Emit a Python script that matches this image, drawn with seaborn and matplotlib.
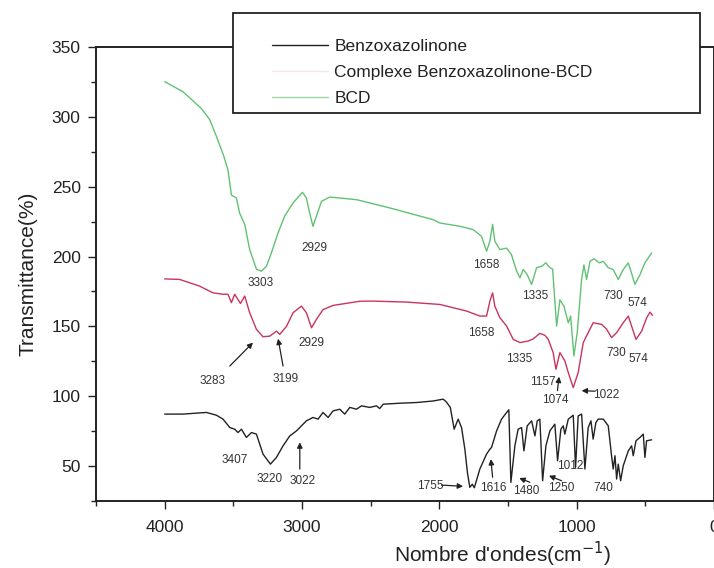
import numpy as np
import pandas as pd
import matplotlib
matplotlib.use("Agg")
import matplotlib.pyplot as plt
from matplotlib.patches import Rectangle
from matplotlib.lines import Line2D
from matplotlib.ticker import MultipleLocator
import seaborn as sns

# ---------------- data ----------------
series_names = ["Benzoxazolinone", "Complexe Benzoxazolinone-BCD", "BCD"]

wn_benz = [4000, 3867, 3696, 3623, 3575, 3526, 3490, 3466, 3441, 3405, 3368, 3332,
           3284, 3230, 3186, 3138, 3089, 3040, 3016, 2968, 2920, 2883, 2847, 2810,
           2774, 2725, 2689, 2652, 2603, 2567, 2506, 2458, 2434, 2409, 2288, 2166,
           2045, 1972, 1950, 1920, 1892, 1863, 1838, 1814, 1795, 1778, 1760, 1745,
           1705, 1656, 1632, 1620, 1583, 1547, 1510, 1494, 1479, 1450, 1426, 1401,
           1384, 1360, 1328, 1304, 1287, 1268, 1248, 1224, 1195, 1159, 1139, 1115,
           1098, 1086, 1061, 1025, 1008, 989, 964, 940, 916, 896, 880, 860, 843,
           806, 770, 746, 734, 721, 709, 697, 680, 661, 624, 600, 588, 568, 539,
           515, 503, 491, 454]
t_benz = [87.2, 87.2, 88.4, 86.4, 83.6, 77.6, 76.4, 74.0, 76.4, 70.5, 74.0, 72.9,
          58.6, 51.4, 56.2, 64.5, 71.6, 75.2, 77.6, 82.4, 84.8, 83.6, 88.4, 84.8,
          89.5, 90.7, 87.2, 92.0, 90.7, 93.1, 92.0, 93.1, 91.2, 94.3, 95.0, 95.5,
          96.6, 97.9, 96.0, 92.0, 76.4, 83.6, 77.5, 62.0, 45.0, 34.8, 37.0, 34.5,
          47.9, 58.6, 62.1, 63.3, 75.2, 83.6, 88.4, 90.3, 38.3, 64.5, 76.4, 77.6,
          60.9, 78.8, 82.4, 71.6, 82.4, 83.6, 39.5, 64.5, 75.2, 80.0, 53.8, 76.4,
          78.8, 72.9, 83.6, 86.4, 49.0, 85.9, 87.2, 47.9, 77.6, 82.4, 69.3, 81.2, 83.6,
          83.6, 78.8, 57.4, 47.9, 57.4, 40.7, 51.4, 39.5, 50.2, 60.9, 64.5, 57.4, 68.1, 70.5,
          72.9, 56.2, 68.1, 68.8]

wn_cplx = [4000, 3891, 3745, 3648, 3575, 3539, 3514, 3490, 3448, 3417, 3381, 3332,
           3284, 3235, 3186, 3162, 3113, 3065, 3004, 2968, 2931, 2895, 2847, 2774,
           2579, 2482, 2239, 1996, 1802, 1705, 1656, 1632, 1612, 1596, 1559, 1510,
           1462, 1413, 1353, 1317, 1268, 1231, 1207, 1171, 1151, 1122, 1086, 1061,
           1025, 989, 952, 916, 880, 818, 782, 746, 709, 661, 624, 600, 568, 527,
           490, 466, 447]
t_cplx = [184.0, 183.6, 178.8, 174.0, 173.0, 173.0, 167.0, 173.0, 166.4, 171.7, 159.8, 147.9,
          142.6, 143.0, 146.6, 144.3, 150.0, 159.8, 164.5, 159.8, 149.0, 155.0, 162.0, 165.0,
          168.0, 168.1, 167.4, 165.7, 161.0, 157.4, 157.4, 168.0, 174.0, 164.5, 156.2, 150.2,
          140.7, 138.4, 139.5, 141.0, 145.0, 143.6, 140.7, 131.2, 119.3, 131.2, 125.3, 116.9,
          106.2, 116.9, 138.4, 145.5, 152.6, 151.4, 148.0, 142.0, 145.5, 152.6, 157.4, 150.2, 140.7, 146.6,
          156.2, 160.2, 157.9]

wn_bcd = [4000, 3867, 3733, 3672, 3623, 3570, 3539, 3514, 3478, 3454, 3417, 3381,
          3332, 3296, 3259, 3223, 3174, 3126, 3065, 2997, 2968, 2944, 2920, 2895,
          2858, 2798, 2603, 2361, 2045, 1996, 1851, 1754, 1693, 1656, 1632, 1612,
          1596, 1559, 1510, 1475, 1437, 1413, 1389, 1360, 1328, 1292, 1255, 1224,
          1195, 1175, 1146, 1122, 1093, 1061, 1044, 1020, 996, 964, 947, 928, 903,
          874, 835, 806, 770, 734, 697, 661, 624, 600, 576, 539, 503, 454]
t_bcd = [325.2, 318.0, 306.0, 298.0, 286.0, 272.0, 262.0, 244.0, 242.0, 231.0, 223.0, 205.0,
         191.0, 189.5, 193.0, 202.6, 217.0, 229.0, 238.4, 246.0, 242.0, 231.0, 221.6, 229.0,
         239.5, 242.6, 240.7, 234.8, 226.4, 224.0, 221.7, 219.3, 214.5, 203.8, 211.0, 223.0,
         211.0, 205.0, 206.0, 201.4, 189.5, 184.8, 190.7, 187.0, 180.0, 192.0, 193.0, 195.5,
         192.0, 191.0, 150.2, 169.0, 164.5, 152.6, 157.4, 128.8, 145.5, 183.6, 194.0, 183.6, 196.6,
         198.4, 195.5, 196.6, 192.0, 190.7, 183.6, 190.7, 195.5, 188.0, 180.0, 187.0, 195.5, 202.6]

# peak labels: (text, x, y)
peak_labels = [
    ("3303", 3305, 181), ("2929", 2907, 206), ("1658", 1656, 194), ("1335", 1304, 172),
    ("730", 734, 172), ("574", 560, 167),
    ("2929", 2931, 138), ("3283", 3648, 111), ("3199", 3118, 112), ("1658", 1693, 145.5),
    ("1335", 1418, 127), ("1157", 1244, 110), ("1074", 1158, 97.5), ("1022", 782, 101),
    ("730", 709, 131), ("574", 551, 126.5),
    ("3407", 3490, 54), ("3220", 3235, 41), ("3022", 2997, 39.5), ("1755", 2069, 36),
    ("1616", 1608, 34.3), ("1480", 1366, 32.4), ("1250", 1110, 34), ("1012", 1049, 50),
    ("740", 806, 34),
]
# arrows: (tail x, tail y, head x, head y)
arrows = [
    (3526, 121.6, 3357, 138.4), (3138, 121.6, 3174, 141.2), (3016, 47.9, 3016, 67),
    (1984, 36.4, 1827, 35.5), (1612, 42, 1625, 55), (1341, 38.4, 1418, 41.4),
    (1110, 39.5, 1202, 43.1), (867, 103.6, 964, 104), (1140, 104, 1128, 114),
]

colors = {"Benzoxazolinone": "#222222",
          "Complexe Benzoxazolinone-BCD": "#c9345e",
          "BCD": "#62c173"}

# ---------------- build table ----------------
frames = []
for name, wn, tt in zip(series_names, [wn_benz, wn_cplx, wn_bcd], [t_benz, t_cplx, t_bcd]):
    frames.append(pd.DataFrame({"wn": wn, "T": tt, "series": name}))
df = pd.concat(frames, ignore_index=True)

sns.set_theme(style="ticks")
plt.rcParams["font.family"] = ["Liberation Sans", "DejaVu Sans"]

fig = plt.figure(figsize=(7.14, 5.68), dpi=100)
ax = fig.add_axes([96 / 714, 1 - 501 / 568, 618 / 714, 454 / 568])

sns.lineplot(data=df, x="wn", y="T", hue="series", palette=colors, sort=False,
             estimator=None, units="series", legend=False, linewidth=1.0, ax=ax)

ax.set_xlim(4500, 0)
ax.set_ylim(25, 350)
ax.xaxis.set_major_locator(MultipleLocator(1000))
ax.xaxis.set_minor_locator(MultipleLocator(500))
ax.yaxis.set_major_locator(MultipleLocator(50))
ax.yaxis.set_minor_locator(MultipleLocator(25))
ax.tick_params(which="major", length=6, width=1.0, labelsize=12.5, colors="#222222", direction="out")
ax.tick_params(which="minor", length=3.5, width=1.0, direction="out", colors="#222222")
ax.tick_params(axis="x", pad=8)
ax.tick_params(axis="y", pad=5)
for s in ax.spines.values():
    s.set_linewidth(1.4)
    s.set_color("#222222")
    s.set_visible(True)

ax.set_xlabel("Nombre d'ondes(cm$^{-1}$)", fontsize=15, color="#222222")
ax.xaxis.set_label_coords((503 - 96) / 618, (501 - 540) / 454)
ax.set_ylabel("Transmittance(%)", fontsize=15, color="#222222", labelpad=10)

for txt, x, y in peak_labels:
    ax.text(x, y, txt, fontsize=8.5, color="#333333", ha="center", va="center")
for x0, y0, x1, y1 in arrows:
    ax.annotate("", xy=(x1, y1), xytext=(x0, y0),
                arrowprops=dict(arrowstyle="-|>", color="#222222", lw=0.9,
                                mutation_scale=8, shrinkA=0, shrinkB=0))

# legend box
rect = Rectangle((233 / 714, 1 - 113 / 568), 467 / 714, 100 / 568, transform=fig.transFigure,
                 facecolor="white", edgecolor="#222222", linewidth=1.3, zorder=3)
fig.patches.append(rect)
handles = [Line2D([], [], color="#222222", lw=1.0),
           Line2D([], [], color="#f6e6eb", lw=1.0),
           Line2D([], [], color="#9ad6a6", lw=1.0)]
leg = fig.legend(handles, series_names, loc="upper left", bbox_to_anchor=(272 / 714, 1 - 39 / 568),
                 frameon=False, borderpad=0, borderaxespad=0, handlelength=3.2,
                 handletextpad=0.4, labelspacing=0.62, fontsize=12.5)
leg.set_zorder(5)
for t in leg.get_texts():
    t.set_color("#222222")

fig.savefig("out.png", dpi=100, facecolor="white")
